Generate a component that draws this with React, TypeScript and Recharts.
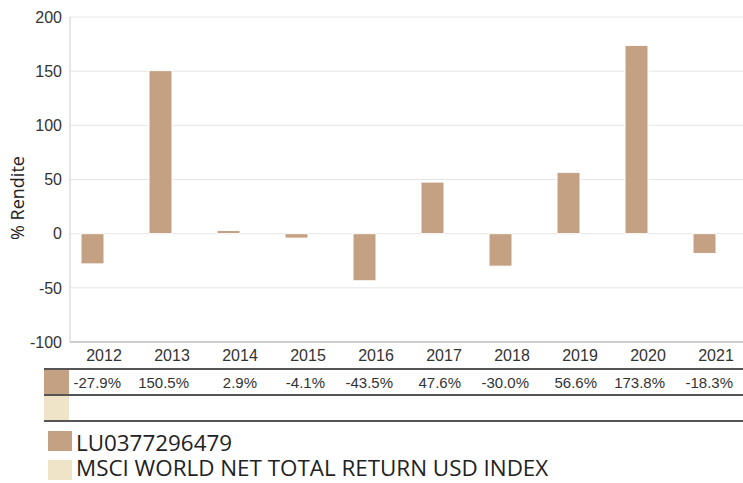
import React from 'react'
import { Bar, BarChart, CartesianGrid, XAxis, YAxis } from 'recharts'

// Yearly returns, fund vs. benchmark (benchmark has no values in the source)
const YEARS = ['2012', '2013', '2014', '2015', '2016', '2017', '2018', '2019', '2020', '2021']
const FUND_RETURNS = [-27.9, 150.5, 2.9, -4.1, -43.5, 47.6, -30.0, 56.6, 173.8, -18.3]
const INDEX_RETURNS: Array<number | null> = [null, null, null, null, null, null, null, null, null, null]
const Y_TICKS = [-100, -50, 0, 50, 100, 150, 200]

const FUND_NAME = 'LU0377296479'
const INDEX_NAME = 'MSCI WORLD NET TOTAL RETURN USD INDEX'

const FUND_COLOR = '#c4a182'
const INDEX_COLOR = '#f0e4c8'
const TICK_FONT = '"Liberation Sans", Arial, sans-serif'
const LABEL_FONT = '"Open Sans", "Noto Sans", sans-serif'

const data = YEARS.map((year, i) => ({
	year,
	fund: FUND_RETURNS[i],
	index: INDEX_RETURNS[i]
}))

const fmt = (v: number | null) => (v == null ? '' : `${v.toFixed(1)}%`)

// x tick draws the year and, one table row lower, the fund value for that year
function YearTick(props: any) {
	const { x, y, payload, index } = props
	return (
		<g>
			<text
				x={x}
				y={y}
				dy="0.71em"
				textAnchor="middle"
				fill="#333"
				fontSize={16}
				fontFamily={TICK_FONT}
			>
				{payload.value}
			</text>
			<text
				x={x + 17}
				y={y + 38}
				textAnchor="end"
				fill="#333"
				fontSize={15}
				fontFamily={TICK_FONT}
			>
				{fmt(FUND_RETURNS[index])}
			</text>
			<text
				x={x + 17}
				y={y + 64}
				textAnchor="end"
				fill="#333"
				fontSize={15}
				fontFamily={TICK_FONT}
			>
				{fmt(INDEX_RETURNS[index])}
			</text>
		</g>
	)
}

const rule = (top: number): React.CSSProperties => ({
	position: 'absolute',
	left: 44,
	top,
	width: 720,
	height: 2,
	background: '#555'
})

const swatch = (left: number, top: number, w: number, h: number, color: string): React.CSSProperties => ({
	position: 'absolute',
	left,
	top,
	width: w,
	height: h,
	background: color
})

const legendText = (top: number): React.CSSProperties => ({
	position: 'absolute',
	left: 76,
	top,
	fontSize: 22.4,
	lineHeight: '22px',
	color: '#222',
	whiteSpace: 'nowrap'
})

export default function App() {
	return (
		<div
			style={{
				position: 'fixed',
				left: 0,
				top: 0,
				width: 743,
				height: 483,
				overflow: 'hidden',
				background: '#fff',
				fontFamily: LABEL_FONT
			}}
		>
			<BarChart
				width={760}
				height={483}
				data={data}
				margin={{ top: 17, right: 10, bottom: 111, left: 0 }}
				barGap={0}
				barSize={23}
			>
				<CartesianGrid vertical={false} stroke="#e6e6e6" />
				<XAxis
					dataKey="year"
					height={30}
					tickLine={false}
					tickSize={0}
					tickMargin={8}
					axisLine={{ stroke: '#ccc', strokeWidth: 2 }}
					tick={<YearTick />}
					interval={0}
				/>
				<YAxis
					width={70}
					domain={[-100, 200]}
					ticks={Y_TICKS}
					tickLine={false}
					tickSize={0}
					tickMargin={8}
					axisLine={{ stroke: '#ccc' }}
					tick={{ fill: '#333', fontSize: 16, fontFamily: TICK_FONT }}
				/>
				<Bar dataKey="fund" fill={FUND_COLOR} stroke="#fff" strokeWidth={1} isAnimationActive={false} />
				<Bar dataKey="index" fill={INDEX_COLOR} stroke="#fff" strokeWidth={1} isAnimationActive={false} />
			</BarChart>

			<div
				style={{
					position: 'absolute',
					left: 17,
					top: 198,
					transform: 'translate(-50%, -50%) rotate(-90deg)',
					fontSize: 18,
					color: '#222',
					whiteSpace: 'nowrap'
				}}
			>
				% Rendite
			</div>

			{/* value table under the axis */}
			<div style={rule(368)} />
			<div style={swatch(44, 370, 25, 25, FUND_COLOR)} />
			<div style={rule(394)} />
			<div style={swatch(44, 396, 25, 24, INDEX_COLOR)} />
			<div style={rule(420)} />

			{/* legend */}
			<div style={swatch(48, 431, 24, 20, FUND_COLOR)} />
			<div style={legendText(432)}>{FUND_NAME}</div>
			<div style={swatch(48, 460, 24, 20, INDEX_COLOR)} />
			<div style={legendText(457)}>{INDEX_NAME}</div>
		</div>
	)
}
